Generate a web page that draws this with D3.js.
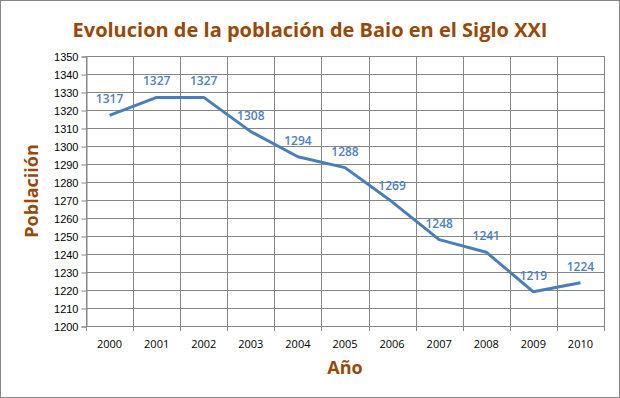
<!DOCTYPE html>
<html>
<head>
<meta charset="utf-8">
<script src="https://cdn.jsdelivr.net/npm/d3@7"></script>
<style>
  body { margin: 0; background: #fff; }
  svg { display: block; font-family: "Open Sans", "Liberation Sans", sans-serif; }
</style>
</head>
<body>
<div id="chart"></div>
<script>
// datos
const years = ["2000", "2001", "2002", "2003", "2004", "2005", "2006", "2007", "2008", "2009", "2010"];
const population = [1317, 1327, 1327, 1308, 1294, 1288, 1269, 1248, 1241, 1219, 1224];
const yTicks = d3.range(1200, 1351, 10);

const width = 620, height = 398;
const margin = { top: 56, right: 16, bottom: 72, left: 86 };

const svg = d3.select("#chart").append("svg")
  .attr("width", width)
  .attr("height", height);

// marco exterior
svg.append("rect")
  .attr("x", 0.5).attr("y", 0.5)
  .attr("width", width - 1).attr("height", height - 1)
  .attr("fill", "#fff")
  .attr("stroke", "#868686");

const x = d3.scaleBand()
  .domain(years)
  .range([margin.left, width - margin.right]);

const y = d3.scaleLinear()
  .domain([1200, 1350])
  .range([height - margin.bottom, margin.top]);

// rejilla horizontal
svg.append("g")
  .selectAll("line")
  .data(yTicks)
  .join("line")
  .attr("x1", margin.left).attr("x2", width - margin.right)
  .attr("y1", d => Math.round(y(d)) + 0.5).attr("y2", d => Math.round(y(d)) + 0.5)
  .attr("stroke", "#868686");

// rejilla vertical
svg.append("g")
  .selectAll("line")
  .data(years.concat(["end"]))
  .join("line")
  .attr("x1", (d, i) => Math.round(margin.left + i * x.bandwidth()) + 0.5)
  .attr("x2", (d, i) => Math.round(margin.left + i * x.bandwidth()) + 0.5)
  .attr("y1", margin.top)
  .attr("y2", height - margin.bottom + 5)
  .attr("stroke", "#868686");

// eje Y
const yAxis = svg.append("g")
  .attr("transform", `translate(${margin.left + 0.5},0.5)`)
  .call(d3.axisLeft(y).tickValues(yTicks).tickSize(5).tickPadding(3).tickFormat(d3.format("d")));
yAxis.select(".domain").attr("stroke", "#868686");
yAxis.selectAll(".tick line").attr("stroke", "#868686");
yAxis.selectAll("text").attr("font-size", 11).attr("fill", "#000");

// eje X (etiquetas)
svg.append("g")
  .selectAll("text")
  .data(years)
  .join("text")
  .attr("x", d => x(d) + x.bandwidth() / 2)
  .attr("y", height - margin.bottom + 22)
  .attr("text-anchor", "middle")
  .attr("font-size", 11)
  .attr("fill", "#000")
  .text(d => d);

// linea
const line = d3.line()
  .x((d, i) => x(years[i]) + x.bandwidth() / 2)
  .y(d => y(d));

svg.append("path")
  .datum(population)
  .attr("d", line)
  .attr("fill", "none")
  .attr("stroke", "#4a7ebb")
  .attr("stroke-width", 3)
  .attr("stroke-linejoin", "round");

// etiquetas de datos
svg.append("g")
  .selectAll("text")
  .data(population)
  .join("text")
  .attr("x", (d, i) => x(years[i]) + x.bandwidth() / 2)
  .attr("y", d => y(d) - 12)
  .attr("text-anchor", "middle")
  .attr("font-size", 12)
  .attr("font-weight", 600)
  .attr("fill", "#4f81bd")
  .text(d => d);

// titulos
svg.append("text")
  .attr("x", width / 2)
  .attr("y", 37)
  .attr("text-anchor", "middle")
  .attr("font-size", 20)
  .attr("font-weight", "bold")
  .attr("fill", "#984807")
  .text("Evolucion de la población de Baio en el Siglo XXI");

svg.append("text")
  .attr("transform", `translate(38,${(margin.top + height - margin.bottom) / 2}) rotate(-90)`)
  .attr("text-anchor", "middle")
  .attr("font-size", 18)
  .attr("font-weight", "bold")
  .attr("fill", "#984807")
  .text("Poblaciión");

svg.append("text")
  .attr("x", (margin.left + width - margin.right) / 2)
  .attr("y", 374)
  .attr("text-anchor", "middle")
  .attr("font-size", 18)
  .attr("font-weight", "bold")
  .attr("fill", "#984807")
  .text("Año");
</script>
</body>
</html>
